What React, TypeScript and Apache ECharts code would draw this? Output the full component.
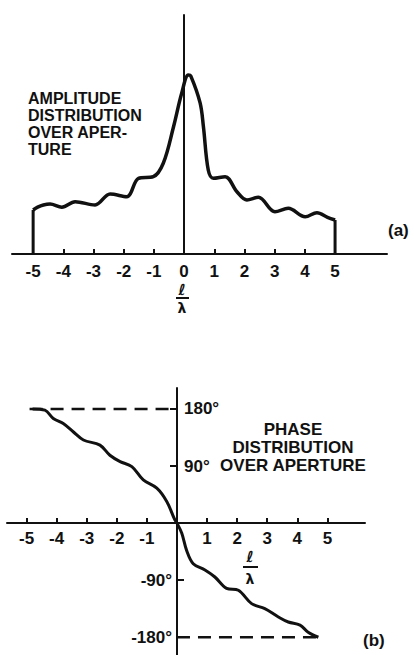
import React, { useEffect, useRef } from "react";
import * as echarts from "echarts";

// Amplitude distribution over aperture (relative, peak = 1)
const ampX = [-5, -4.85, -4.66, -4.44, -4.05, -3.61, -2.95, -2.45, -1.9, -1.51, -1.02, -0.69, -0.35, -0.08, 0.14, 0.22, 0.53, 0.64, 0.8, 0.97, 1.36, 1.75, 2.08, 2.46, 3.01, 3.45, 4.01, 4.4, 4.75, 5];
const ampY = [0.246, 0.262, 0.274, 0.279, 0.261, 0.292, 0.274, 0.335, 0.32, 0.423, 0.432, 0.507, 0.711, 0.898, 1.0, 0.995, 0.844, 0.711, 0.469, 0.423, 0.432, 0.348, 0.302, 0.317, 0.236, 0.255, 0.208, 0.231, 0.205, 0.19];

// Phase distribution over aperture (degrees)
const phaseX = [-4.8, -4.39, -4.11, -3.78, -3.45, -3.11, -2.56, -2.23, -1.89, -1.5, -1.12, -0.67, -0.34, -0.07, 0, 0.16, 0.32, 0.54, 0.93, 1.26, 1.65, 2.04, 2.48, 2.92, 3.37, 3.7, 4.09, 4.36, 4.7];
const phaseY = [180, 178, 165, 157, 144, 131, 123, 107, 97, 89, 68, 55, 34, 5, 0, -16, -43, -64, -74, -85, -103, -106, -127, -135, -148, -156, -161, -172, -180];

// Tick labels
const ampTickLabels = [-5, -4, -3, -2, -1, 0, 1, 2, 3, 4, 5];
const ampTicks = [-4, -3, -2, -1, 1, 2, 3, 4];
const phaseTickLabels = [-5, -4, -3, -2, -1, 1, 2, 3, 4, 5];
const phaseTicks = [-5, -4, -3, -2, -1, 1, 2, 3, 4, 5];
const phaseUpper = [180, 90];
const phaseLower = [-90, -180];

const INK = "#111";
const FONT = "Liberation Sans";

export default function App() {
  const ref = useRef<HTMLDivElement>(null);

  useEffect(() => {
    if (!ref.current) return;
    const chart = echarts.init(ref.current, null, { renderer: "svg" });

    const ampData = ampX.map((x, i) => [x, ampY[i]]);
    const phaseData = phaseX.map((x, i) => [x, phaseY[i]]);
    const n = ampX.length;
    const m = phaseX.length;

    const labelStyle = {
      color: INK,
      fontFamily: FONT,
      fontSize: 17,
      fontWeight: "bold" as const,
    };

    chart.setOption({
      animation: false,
      backgroundColor: "#fff",
      grid: [
        { left: 12, top: 15, width: 375, height: 239, containLabel: false, outerBoundsMode: "none" },
        { left: 7, top: 388, width: 358, height: 267, containLabel: false, outerBoundsMode: "none" },
      ],
      xAxis: [
        {
          type: "value",
          gridIndex: 0,
          position: "bottom",
          min: -5.7,
          max: 6.72,
          axisLine: { show: true, onZero: false, lineStyle: { color: INK, width: 2 } },
          axisTick: { show: true, inside: true, length: 5, customValues: ampTicks, lineStyle: { color: INK, width: 2 } },
          axisLabel: { ...labelStyle, margin: 9, customValues: ampTickLabels, formatter: (v: number) => String(v) },
          splitLine: { show: false },
        },
        {
          type: "value",
          gridIndex: 1,
          position: "bottom",
          offset: -132,
          min: -5.65,
          max: 6.25,
          axisLine: { show: true, onZero: false, lineStyle: { color: INK, width: 2 } },
          axisTick: { show: true, inside: true, length: 5, customValues: phaseTicks, lineStyle: { color: INK, width: 2 } },
          axisLabel: { ...labelStyle, margin: 7, customValues: phaseTickLabels, formatter: (v: number) => String(v) },
          splitLine: { show: false },
        },
      ],
      yAxis: [
        {
          type: "value",
          gridIndex: 0,
          position: "left",
          offset: -172,
          min: 0,
          max: 1.335,
          axisLine: { show: true, onZero: false, lineStyle: { color: INK, width: 2 } },
          axisTick: { show: false },
          axisLabel: { show: false },
          splitLine: { show: false },
        },
        {
          type: "value",
          gridIndex: 1,
          position: "left",
          offset: -170,
          min: -208,
          max: 213,
          axisLine: { show: true, onZero: false, lineStyle: { color: INK, width: 2 } },
          axisTick: { show: true, inside: false, length: 7, customValues: phaseUpper, lineStyle: { color: INK, width: 2 } },
          axisLabel: { ...labelStyle, inside: true, margin: 7, customValues: phaseUpper, formatter: (v: number) => v + "°" },
          splitLine: { show: false },
        },
        {
          type: "value",
          gridIndex: 1,
          position: "left",
          offset: -170,
          min: -208,
          max: 213,
          axisLine: { show: false, onZero: false },
          axisTick: { show: true, inside: true, length: 7, customValues: phaseLower, lineStyle: { color: INK, width: 2 } },
          axisLabel: { ...labelStyle, inside: false, margin: 5, customValues: phaseLower, formatter: (v: number) => v + "°" },
          splitLine: { show: false },
        },
      ],
      series: [
        {
          type: "line",
          xAxisIndex: 0,
          yAxisIndex: 0,
          data: ampData,
          smooth: 0.35,
          showSymbol: false,
          lineStyle: { color: INK, width: 3.5 },
        },
        {
          type: "line",
          xAxisIndex: 0,
          yAxisIndex: 0,
          data: [[ampX[0], 0], [ampX[0], ampY[0]]],
          showSymbol: false,
          lineStyle: { color: INK, width: 3 },
        },
        {
          type: "line",
          xAxisIndex: 0,
          yAxisIndex: 0,
          data: [[ampX[n - 1], 0], [ampX[n - 1], ampY[n - 1]]],
          showSymbol: false,
          lineStyle: { color: INK, width: 3 },
        },
        {
          type: "line",
          xAxisIndex: 1,
          yAxisIndex: 1,
          data: phaseData,
          smooth: 0.35,
          showSymbol: false,
          lineStyle: { color: INK, width: 3 },
        },
        {
          type: "line",
          xAxisIndex: 1,
          yAxisIndex: 1,
          data: [[phaseX[0] - 0.1, phaseY[0]], [0, phaseY[0]]],
          showSymbol: false,
          lineStyle: { color: INK, width: 2.5, type: [13, 8] },
        },
        {
          type: "line",
          xAxisIndex: 1,
          yAxisIndex: 1,
          data: [[0, phaseY[m - 1]], [phaseX[m - 1], phaseY[m - 1]]],
          showSymbol: false,
          lineStyle: { color: INK, width: 2.5, type: [13, 8] },
        },
      ],
      graphic: [
        {
          type: "text",
          left: 28,
          top: 90,
          style: {
            text: "AMPLITUDE\nDISTRIBUTION\nOVER APER-\nTURE",
            fill: INK,
            font: `bold 16px "${FONT}"`,
            lineHeight: 17,
          },
        },
        {
          type: "text",
          x: 293,
          y: 420,
          style: {
            text: "PHASE\nDISTRIBUTION\nOVER APERTURE",
            fill: INK,
            font: `bold 17px "${FONT}"`,
            lineHeight: 18,
            align: "center",
          },
        },
        { type: "text", x: 388, y: 230, style: { text: "(a)", fill: INK, font: `bold 17px "${FONT}"`, verticalAlign: "middle" } },
        { type: "text", x: 363, y: 640, style: { text: "(b)", fill: INK, font: `bold 17px "${FONT}"`, verticalAlign: "middle" } },
        { type: "text", x: 182, y: 290, style: { text: "ℓ", fill: INK, font: `bold 15px "DejaVu Sans"`, align: "center", verticalAlign: "middle" } },
        { type: "line", shape: { x1: 176, y1: 298, x2: 189, y2: 298 }, style: { stroke: INK, lineWidth: 2 } },
        { type: "text", x: 182, y: 308, style: { text: "λ", fill: INK, font: `bold 14px "DejaVu Sans"`, align: "center", verticalAlign: "middle" } },
        { type: "text", x: 250, y: 557, style: { text: "ℓ", fill: INK, font: `bold 15px "DejaVu Sans"`, align: "center", verticalAlign: "middle" } },
        { type: "line", shape: { x1: 243, y1: 567, x2: 258, y2: 567 }, style: { stroke: INK, lineWidth: 2 } },
        { type: "text", x: 250, y: 579, style: { text: "λ", fill: INK, font: `bold 14px "DejaVu Sans"`, align: "center", verticalAlign: "middle" } },
      ],
    });

    return () => chart.dispose();
  }, []);

  return (
    <div
      ref={ref}
      style={{ position: "fixed", left: 0, top: 0, width: 414, height: 655, background: "#fff" }}
    />
  );
}
